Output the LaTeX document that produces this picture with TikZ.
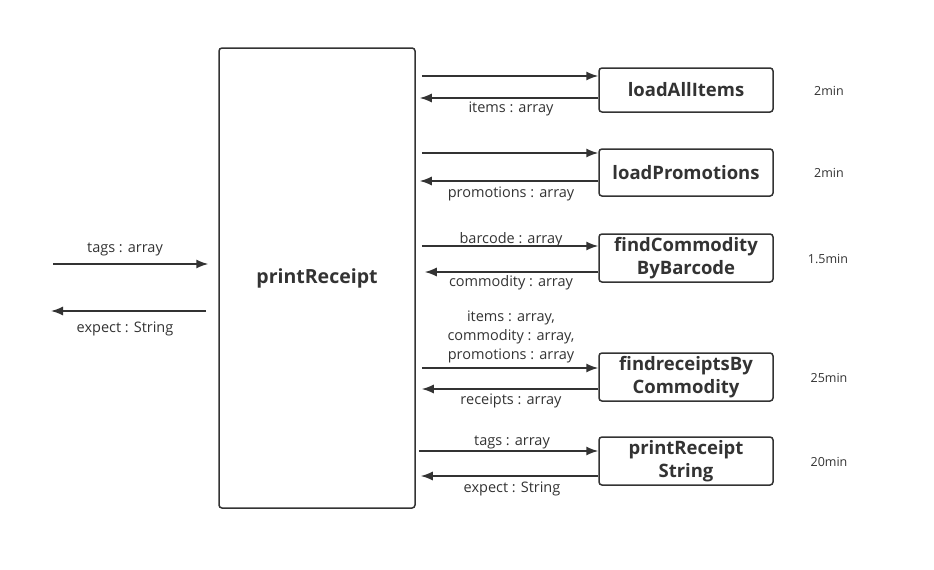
\documentclass[tikz,border=0pt]{standalone}
\usepackage{fontspec}
\setmainfont{Open Sans}
\usepackage{tikz}
\usetikzlibrary{arrows.meta}
\definecolor{ink}{HTML}{333333}
\tikzstyle{box}=[rectangle,draw=ink,line width=1.5pt,rounded corners=3pt,fill=white,text=ink,align=center]
\tikzstyle{func}=[box,minimum width=174pt,minimum height=46pt,inner sep=0pt,font=\bfseries\fontsize{18.5}{23}\selectfont]
\tikzstyle{lbl}=[text=ink,align=center,inner sep=0pt,yshift=-2pt,font=\fontsize{14.5}{19}\selectfont]
\tikzstyle{cost}=[text=ink,inner sep=0pt,yshift=-1pt,font=\fontsize{12.5}{14}\selectfont]
\tikzstyle{call}=[-{Latex[length=12pt,width=9pt]},line width=1.5pt,draw=ink]

\begin{document}
\begin{tikzpicture}[x=1pt,y=-1pt]
  \useasboundingbox (0,0) rectangle (934,570);
  \node[box,minimum width=196pt,minimum height=460pt,font=\bfseries\fontsize{19.5}{23}\selectfont] (main) at (317,278) {printReceipt};

  \node[func,minimum height=44pt] (A) at (686,90) {loadAllItems};
  \node[func,minimum height=47pt] (B) at (686,172.5) {loadPromotions};
  \node[func,minimum height=48pt] (C) at (686,258) {findCommodity\\ByBarcode};
  \node[func,minimum height=48pt] (D) at (686,377) {findreceiptsBy\\Commodity};
  \node[func,minimum height=48pt] (E) at (686,461) {printReceipt\\String};

  % arrow ends on the function boxes
  \coordinate (a1) at (A.west |- 0,76);  \coordinate (a2) at (A.west |- 0,98);
  \coordinate (b1) at (B.west |- 0,153); \coordinate (b2) at (B.west |- 0,181);
  \coordinate (c1) at (C.west |- 0,246); \coordinate (c2) at (C.west |- 0,272);
  \coordinate (d1) at (D.west |- 0,368); \coordinate (d2) at (D.west |- 0,389);
  \coordinate (e1) at (E.west |- 0,451); \coordinate (e2) at (E.west |- 0,476);
  \coordinate (in) at (53,264);
  \coordinate (out) at (206,311);

  \draw[call] ([xshift=6pt]main.east |- a1)--(a1); \draw[call] (a2)--([xshift=4pt]main.east |- a2);
  \draw[call] ([xshift=6pt]main.east |- b1)--(b1); \draw[call] (b2)--([xshift=4pt]main.east |- b2);
  \draw[call] ([xshift=6pt]main.east |- c1)--(c1); \draw[call] (c2)--([xshift=9pt]main.east |- c2);
  \draw[call] ([xshift=6pt]main.east |- d1)--(d1); \draw[call] (d2)--([xshift=6pt]main.east |- d2);
  \draw[call] ([xshift=3pt]main.east |- e1)--(e1); \draw[call] (e2)--([xshift=5pt]main.east |- e2);
  \draw[call] (in)--([xshift=-10pt]main.west |- in);
  \draw[call] (out)--([xshift=-155pt]out);

  \node[lbl] (la) at (511,107) {items : array};
  \node[lbl] (lb) at (511,192) {promotions : array};
  \node[lbl] (lc1) at (511,238) {barcode : array};
  \node[lbl] (lc2) at (511,281) {commodity : array};
  \node[lbl] (ld1) at (511,335) {items : array,\\commodity : array,\\promotions : array};
  \node[lbl] (ld2) at (511,399) {receipts : array};
  \node[lbl] (le1) at (512,440) {tags : array};
  \node[lbl] (le2) at (512,487) {expect : String};
  \node[lbl] (lin) at (125,247) {tags : array};
  \node[lbl] (lout) at (125,327) {expect : String};

  \node[cost] (ta) at (829,90) {2min};
  \node[cost] (tb) at (829,172) {2min};
  \node[cost] (tc) at (828,258) {1.5min};
  \node[cost] (td) at (829,377) {25min};
  \node[cost] (te) at (829,461) {20min};
\end{tikzpicture}
\end{document}
